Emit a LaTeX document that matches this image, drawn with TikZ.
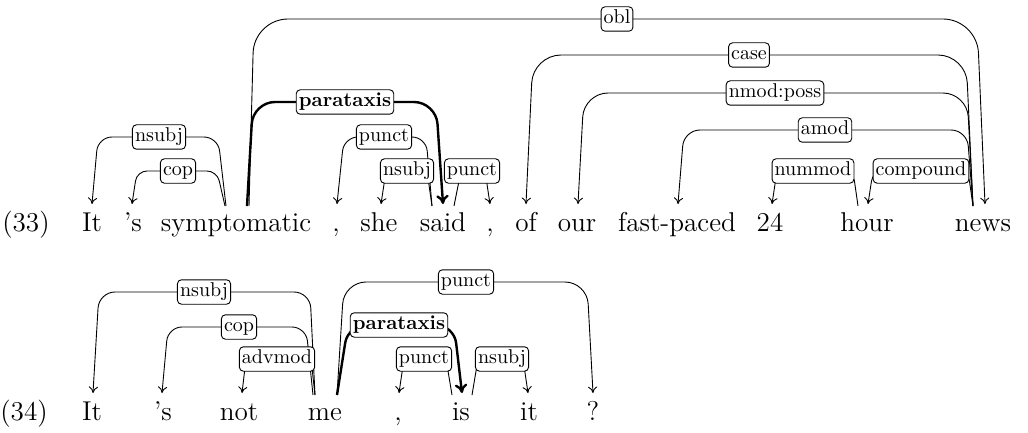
\documentclass[tikz,border=0pt]{standalone}
\usetikzlibrary{calc,arrows.meta}
\pgfdeclarelayer{background}
\pgfsetlayers{background,main}
\tikzset{
  word/.style={anchor=base, inner sep=0pt, font=\fontsize{13.6}{16}\selectfont},
  lab/.style={draw, fill=white, rounded corners=2pt, inner xsep=1.3pt, inner ysep=1.4pt,
    text height=7pt, text depth=2.4pt, font=\fontsize{10}{12}\selectfont, line width=0.45pt},
  boldlab/.style={lab, font=\fontsize{10}{12}\selectfont\bfseries},
  dep/.style={line width=0.45pt, -{To[length=3.2pt,width=4.6pt]}},
  thickdep/.style={line width=1.2pt, -{To[length=4.5pt,width=6.2pt]}},
}
\newcommand\depedge[8][]{%
  \path ($(#2.base)+(#3,-25)$) coordinate (ha) ($(#4.base)+(#5,-27)$) coordinate (da);
  \begin{pgfonlayer}{background}
  \draw[dep,#1] (ha) -- ($(ha |- #6)+(#7,0)$) -- ($(da |- #6)+(#8,0)$) -- (da);
  \end{pgfonlayer}
}
\begin{document}
\begin{tikzpicture}[x=0.5pt,y=-0.5pt]
\useasboundingbox (0,0) rectangle (1028,433);
% ---- sentence (33)
\node[word] (n33) at (26,231) {(33)};
\node[word] (a1) at (92,231) {It};
\node[word] (a2) at (133,231) {'s};
\node[word] (a3) at (236,231) {symptomatic};
\node[word] (a4) at (336,231) {,};
\node[word] (a5) at (379,231) {she};
\node[word] (a6) at (443,231) {said};
\node[word] (a7) at (490,231) {,};
\node[word] (a8) at (526,231) {of};
\node[word] (a9) at (577,231) {our};
\node[word] (a10) at (677,231) {fast-paced};
\node[word] (a11) at (770,231) {24};
\node[word] (a12) at (867,231) {hour};
\node[word] (a13) at (983,231) {news};

\node[lab] (e1) at (159,137) {nsubj};
\depedge[rounded corners=7pt]{a3}{-10}{a1}{0}{e1}{-8}{6}
\node[lab] (e2) at (178,171) {cop};
\depedge[rounded corners=5pt]{a3}{-11}{a2}{-1}{e2}{-8}{5}
\node[lab] (e3) at (617,19) {obl};
\depedge[rounded corners=17pt]{a3}{13}{a13}{2}{e3}{5}{-8}
\node[boldlab] (e4) at (345,102) {parataxis};
\depedge[thickdep,rounded corners=11pt]{a3}{11}{a6}{0}{e4}{6}{-7}
\node[lab] (e5) at (384,137) {punct};
\depedge[rounded corners=7pt]{a6}{-11}{a4}{1}{e5}{-6}{7}
\node[lab] (e6) at (407,171) {nsubj};
\depedge[rounded corners=5pt]{a6}{-11}{a5}{2}{e6}{-5}{5}
\node[lab] (e7) at (472,171) {punct};
\depedge[rounded corners=5pt]{a6}{11}{a7}{0}{e7}{7}{-5}
\node[lab] (e8) at (749,55) {case};
\depedge[rounded corners=14pt]{a13}{-10}{a8}{0}{e8}{-7}{7}
\node[lab] (e9) at (775,93) {nmod:poss};
\depedge[rounded corners=12pt]{a13}{-10}{a9}{1}{e9}{-6}{6}
\node[lab] (e10) at (825,130) {amod};
\depedge[rounded corners=8pt]{a13}{-10}{a10}{1}{e10}{-6}{6}
\node[lab] (e11) at (921,171) {compound};
\depedge[rounded corners=5pt]{a13}{-10}{a12}{1}{e11}{-5}{5}
\node[lab] (e12) at (813,171) {nummod};
\depedge[rounded corners=5pt]{a12}{-9}{a11}{2}{e12}{-5}{5}

% ---- sentence (34)
\node[word] (n34) at (24,420) {(34)};
\node[word] (b1) at (92,420) {It};
\node[word] (b2) at (163,420) {'s};
\node[word] (b3) at (239,420) {not};
\node[word] (b4) at (325,420) {me};
\node[word] (b5) at (398,420) {,};
\node[word] (b6) at (461,420) {is};
\node[word] (b7) at (529,420) {it};
\node[word] (b8) at (593,420) {?};

\node[lab] (f1) at (204,292) {nsubj};
\depedge[rounded corners=8pt]{b4}{-10}{b1}{1}{f1}{-5}{6}
\node[lab] (f2) at (239,327) {cop};
\depedge[rounded corners=7pt]{b4}{-12}{b2}{-1}{f2}{-7}{6}
\node[lab] (f3) at (277,359) {advmod};
\depedge[rounded corners=5pt]{b4}{-10}{b3}{3}{f3}{-4}{4}
\node[lab] (f4) at (466,282) {punct};
\depedge[rounded corners=11pt]{b4}{12}{b8}{0}{f4}{7}{-6}
\node[boldlab] (f5) at (399,325) {parataxis};
\depedge[thickdep,rounded corners=9pt]{b4}{12}{b6}{1}{f5}{11}{-8}
\node[lab] (f6) at (424,359) {punct};
\depedge[rounded corners=5pt]{b6}{-9}{b5}{1}{f6}{-6}{5}
\node[lab] (f7) at (502,359) {nsubj};
\depedge[rounded corners=5pt]{b6}{11}{b7}{-1}{f7}{6}{-5}
\end{tikzpicture}
\end{document}
